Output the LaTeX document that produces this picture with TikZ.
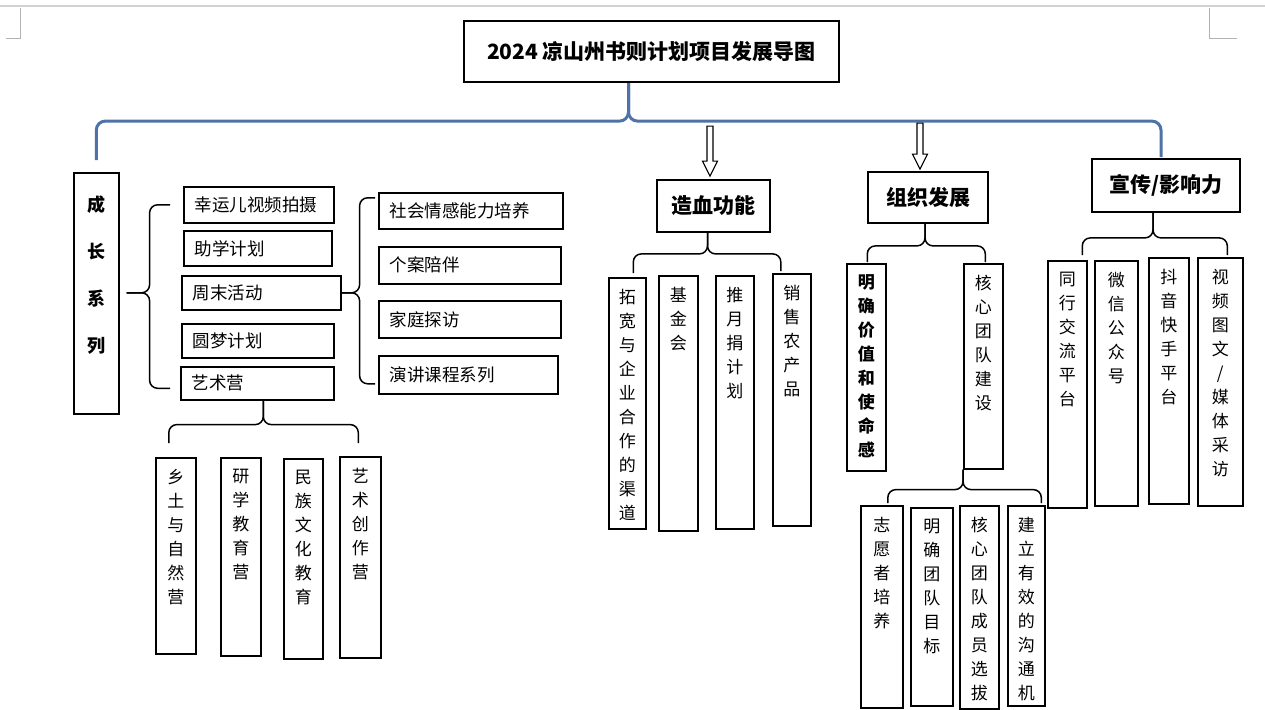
\documentclass[tikz,border=0pt]{standalone}
\usepackage{fontspec}
\setmainfont{Noto Sans CJK SC}
\usetikzlibrary{calc}

\definecolor{lineblue}{RGB}{79,114,168}
% vertical text column: [line distance]{box height}{text}
\newcommand{\vt}[3][24pt]{\parbox[t][#2][t]{20pt}{\centering\fontsize{17}{#1}\selectfont\vspace*{11pt}#3}}

\begin{document}
\begin{tikzpicture}
[
    x=1pt, y=-1pt,
    % The strategy is to place boxes by their top left corner (pixel grid)
    % Boxes are named after the pinyin of their text
    font=\fontsize{17.5}{20}\selectfont
]

%=================================== Start ===================================
\tikzstyle{hd}   = [draw, line width=1.8pt, font=\bfseries\fontsize{21}{24}\selectfont, inner sep=0pt]
\tikzstyle{hbox} = [draw, line width=1.6pt, anchor=north west, inner xsep=11pt, inner ysep=0pt,
                    align=left, text width=#1]
\tikzstyle{vbox} = [draw, line width=1.6pt, anchor=north west, inner sep=0pt]
\tikzstyle{brc}  = [line width=1.5pt, rounded corners=8pt]
\tikzstyle{bbrc} = [line width=3pt, rounded corners=9pt, draw=lineblue]
\tikzset{pics/harrow/.style={code={
    \draw[line width=1.1pt, fill=white] (0,0) -- (-7.5,-15) -- (-3,-15) -- (-3,-#1)
        -- (3,-#1) -- (3,-15) -- (7.5,-15) -- cycle;}}}

\useasboundingbox (0,0) rectangle (1265,709);
{
    % Page edge and corner marks
    \draw[gray!35, line width=1.5pt] (0,6) -- (1265,6);
    \draw[gray!60, line width=0.8pt] (6,38) -- (20,38) -- (20,8);
    \draw[gray!60, line width=0.8pt] (1209,8) -- (1209,38) -- (1237,38);

    % Draw title and headings
    \node[hd, line width=2.2pt, minimum width=375pt, minimum height=61pt] (bt)
          at (651.5,51.5) {2024 凉山州书则计划项目发展导图};
    \node[hd, minimum width=113pt, minimum height=52pt] (zx) at (713.5,206) {造血功能};
    \node[hd, minimum width=120pt, minimum height=51pt] (zz) at (928,197.5) {组织发展};
    \node[hd, minimum width=148pt, minimum height=53pt] (xc) at (1166,185.5) {宣传/影响力};
    \node[vbox, minimum width=45pt] (cz) at (73,172)
          {\parbox[t][241pt][t]{20pt}{\centering\bfseries\fontsize{18}{47}\selectfont\vspace*{23pt}成\\长\\系\\列}};

    % Draw groups: Growth series
    \foreach \n/\x/\y/\w/\h/\txt in {xy/183/186/128pt/36pt/幸运儿视频拍摄, zj/183/230/126pt/35pt/助学计划,
                                     zm/181/275/137pt/34pt/周末活动, ym/181/323/130pt/34pt/圆梦计划,
                                     ys/180/366/131pt/33pt/艺术营}
        \node[hbox=\w, minimum height=\h] (\n) at (\x,\y) {\txt};
    \foreach \n/\x/\y/\w/\h/\txt in {sh/378/192/162pt/36pt/社会情感能力培养, ga/378/246/160pt/37pt/个案陪伴,
                                     jt/378/300/160pt/37pt/家庭探访, yj/378/355/157pt/38pt/演讲课程系列}
        \node[hbox=\w, minimum height=\h] (\n) at (\x,\y) {\txt};
    \foreach \n/\x/\y/\w/\h/\txt in {xt1/155/457/40pt/196pt/{乡\\土\\与\\自\\然\\营},
                                     xt2/220/457/40pt/198pt/{研\\学\\教\\育\\营},
                                     xt3/283/458/39pt/200pt/{民\\族\\文\\化\\教\\育},
                                     xt4/339/456/41pt/201pt/{艺\\术\\创\\作\\营}}
        \node[vbox, minimum width=\w] (\n) at (\x,\y) {\vt{\h}{\txt}};

    % Draw groups: Self funding
    \foreach \n/\x/\y/\w/\h/\txt in {zx1/608/277/37pt/251pt/{拓\\宽\\与\\企\\业\\合\\作\\的\\渠\\道},
                                     zx2/658/275/39pt/255pt/{基\\金\\会},
                                     zx3/715/275/38pt/253pt/{推\\月\\捐\\计\\划},
                                     zx4/772/273/38pt/252pt/{销\\售\\农\\产\\品}}
        \node[vbox, minimum width=\w] (\n) at (\x,\y) {\vt{\h}{\txt}};

    % Draw groups: Organisation
    \foreach \n/\x/\y/\w/\h/\txt in {zz1/846/263/39pt/207pt/{\bfseries 明\\确\\价\\值\\和\\使\\命\\感},
                                     zz2/963/263/39pt/205pt/{核\\心\\团\\队\\建\\设},
                                     hx1/860/505/42pt/202pt/{志\\愿\\者\\培\\养},
                                     hx2/910/507/42pt/198pt/{明\\确\\团\\队\\目\\标},
                                     hx3/959/505/39pt/203pt/{核\\心\\团\\队\\成\\员\\选\\拔},
                                     hx4/1007/505/37pt/200pt/{建\\立\\有\\效\\的\\沟\\通\\机}}
        \node[vbox, minimum width=\w] (\n) at (\x,\y) {\vt{\h}{\txt}};

    % Draw groups: Publicity
    \foreach \n/\x/\y/\w/\h/\txt in {xc1/1047/260/39pt/247pt/{同\\行\\交\\流\\平\\台},
                                     xc2/1094/260/43pt/245pt/{微\\信\\公\\众\\号},
                                     xc3/1148/257/40pt/246pt/{抖\\音\\快\\手\\平\\台},
                                     xc4/1197/257/45pt/248pt/{视\\频\\图\\文\\/\\媒\\体\\采\\访}}
        \node[vbox, minimum width=\w] (\n) at (\x,\y) {\vt{\h}{\txt}};

    % Main blue brace
    \draw[bbrc] ([xshift=-23pt]bt.south) -- ++(0,38) -| ([yshift=12pt]cz.north);
    \draw[bbrc] ([xshift=-23pt]bt.south) -- ++(0,38) -| ([xshift=-5pt,yshift=1pt]xc.north);

    % Hollow arrows
    \pic at ([xshift=-3.5pt,yshift=3pt]zx.north) {harrow=50};
    \pic at ([xshift=-8pt,yshift=2pt]zz.north) {harrow=46};

    % Braces
    \draw[brc] ($(cz.east |- zm.west)+(7,0)$) -- ++(23,0) |- ([xshift=-13pt]xy.west);
    \draw[brc] ($(cz.east |- zm.west)+(7,0)$) -- ++(23,0) |- ([xshift=-10pt,yshift=-5pt]ys.west);
    \draw[brc] (zm.east) -- ++(18,0) |- ([xshift=-3pt,yshift=13pt]sh.west);
    \draw[brc] (zm.east) -- ++(18,0) |- ([xshift=-3pt,yshift=-9pt]yj.west);
    \foreach \p/\an/\s/\a/\b/\d/\lx/\ly/\rx/\ry in {ys/south/6pt/xt1/xt4/24/-7pt/14pt/-2pt/13pt,
                                                   zx/south/-6pt/zx1/zx4/21/6pt/4pt/-11pt/2pt,
                                                   zz/south/-3pt/zz1/zz2/22/1pt/1pt/2pt/1pt,
                                                   xc/south/-13pt/xc1/xc4/25/15pt/5pt/7pt/2pt,
                                                   zz2/south west/0pt/hx1/hx4/20/6pt/2pt/15pt/2pt}
    {
        \draw[brc] ([xshift=\s]\p.\an) -- ++(0,\d) -| ([xshift=\lx,yshift=\ly]\a.north);
        \draw[brc] ([xshift=\s]\p.\an) -- ++(0,\d) -| ([xshift=\rx,yshift=\ry]\b.north);
    }
}
%==================================== END ====================================

\end{tikzpicture}
\end{document}
